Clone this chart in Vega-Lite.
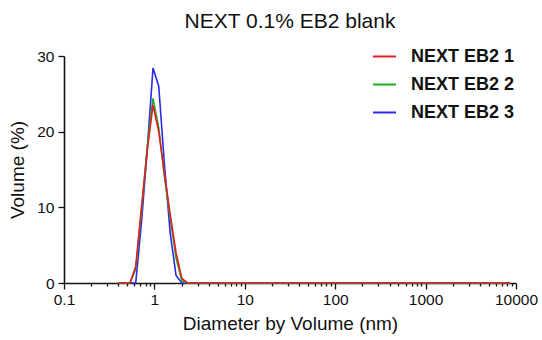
{
  "$schema": "https://vega.github.io/schema/vega-lite/v6.json",
  "autosize": "none",
  "width": 452,
  "height": 227,
  "padding": {"left": 64, "top": 56, "right": 26, "bottom": 57},
  "background": "white",
  "title": {"text": "NEXT 0.1% EB2 blank", "font": "Liberation Sans", "fontSize": 21, "fontWeight": "normal", "color": "#111", "anchor": "middle", "offset": 12},
  "config": {"view": {"stroke": null}, "font": "Liberation Sans"},
  "data": {"values": [
    {"s":"NEXT EB2 3","d":0.4,"v":0},{"s":"NEXT EB2 3","d":0.4632,"v":0},{"s":"NEXT EB2 3","d":0.5365,"v":0},{"s":"NEXT EB2 3","d":0.6213,"v":0},{"s":"NEXT EB2 3","d":0.7195,"v":8.0},{"s":"NEXT EB2 3","d":0.8332,"v":17.6},{"s":"NEXT EB2 3","d":0.9649,"v":28.4},{"s":"NEXT EB2 3","d":1.117,"v":26.0},{"s":"NEXT EB2 3","d":1.294,"v":15.5},{"s":"NEXT EB2 3","d":1.499,"v":6.5},{"s":"NEXT EB2 3","d":1.736,"v":1.0},{"s":"NEXT EB2 3","d":2.01,"v":0},{"s":"NEXT EB2 3","d":2.328,"v":0},{"s":"NEXT EB2 3","d":2.696,"v":0},{"s":"NEXT EB2 3","d":3.122,"v":0},{"s":"NEXT EB2 3","d":3.615,"v":0},{"s":"NEXT EB2 3","d":4.187,"v":0},{"s":"NEXT EB2 3","d":4.849,"v":0},{"s":"NEXT EB2 3","d":5.615,"v":0},{"s":"NEXT EB2 3","d":6.503,"v":0},{"s":"NEXT EB2 3","d":7.531,"v":0},{"s":"NEXT EB2 3","d":8.721,"v":0},{"s":"NEXT EB2 3","d":10.1,"v":0},{"s":"NEXT EB2 3","d":11.7,"v":0},{"s":"NEXT EB2 3","d":13.54,"v":0},{"s":"NEXT EB2 3","d":15.69,"v":0},{"s":"NEXT EB2 3","d":18.17,"v":0},{"s":"NEXT EB2 3","d":21.04,"v":0},{"s":"NEXT EB2 3","d":24.36,"v":0},{"s":"NEXT EB2 3","d":28.21,"v":0},{"s":"NEXT EB2 3","d":32.67,"v":0},{"s":"NEXT EB2 3","d":37.84,"v":0},{"s":"NEXT EB2 3","d":43.82,"v":0},{"s":"NEXT EB2 3","d":50.75,"v":0},{"s":"NEXT EB2 3","d":58.77,"v":0},{"s":"NEXT EB2 3","d":68.06,"v":0},{"s":"NEXT EB2 3","d":78.82,"v":0},{"s":"NEXT EB2 3","d":91.28,"v":0},{"s":"NEXT EB2 3","d":105.7,"v":0},{"s":"NEXT EB2 3","d":122.4,"v":0},{"s":"NEXT EB2 3","d":141.8,"v":0},{"s":"NEXT EB2 3","d":164.2,"v":0},{"s":"NEXT EB2 3","d":190.1,"v":0},{"s":"NEXT EB2 3","d":220.2,"v":0},{"s":"NEXT EB2 3","d":255,"v":0},{"s":"NEXT EB2 3","d":295.3,"v":0},{"s":"NEXT EB2 3","d":342,"v":0},{"s":"NEXT EB2 3","d":396.1,"v":0},{"s":"NEXT EB2 3","d":458.7,"v":0},{"s":"NEXT EB2 3","d":531.2,"v":0},{"s":"NEXT EB2 3","d":615.1,"v":0},{"s":"NEXT EB2 3","d":712.4,"v":0},{"s":"NEXT EB2 3","d":825,"v":0},{"s":"NEXT EB2 3","d":955.4,"v":0},{"s":"NEXT EB2 3","d":1106,"v":0},{"s":"NEXT EB2 3","d":1281,"v":0},{"s":"NEXT EB2 3","d":1484,"v":0},{"s":"NEXT EB2 3","d":1718,"v":0},{"s":"NEXT EB2 3","d":1990,"v":0},{"s":"NEXT EB2 3","d":2305,"v":0},{"s":"NEXT EB2 3","d":2669,"v":0},{"s":"NEXT EB2 3","d":3091,"v":0},{"s":"NEXT EB2 3","d":3580,"v":0},{"s":"NEXT EB2 3","d":4145,"v":0},{"s":"NEXT EB2 3","d":4801,"v":0},{"s":"NEXT EB2 3","d":5560,"v":0},{"s":"NEXT EB2 3","d":6439,"v":0},{"s":"NEXT EB2 3","d":7456,"v":0},{"s":"NEXT EB2 3","d":8635,"v":0},
    {"s":"NEXT EB2 2","d":0.4,"v":0},{"s":"NEXT EB2 2","d":0.4632,"v":0},{"s":"NEXT EB2 2","d":0.5365,"v":0},{"s":"NEXT EB2 2","d":0.6213,"v":1.8},{"s":"NEXT EB2 2","d":0.7195,"v":9.5},{"s":"NEXT EB2 2","d":0.8332,"v":18.0},{"s":"NEXT EB2 2","d":0.9649,"v":24.4},{"s":"NEXT EB2 2","d":1.117,"v":20.5},{"s":"NEXT EB2 2","d":1.294,"v":14.0},{"s":"NEXT EB2 2","d":1.499,"v":8.5},{"s":"NEXT EB2 2","d":1.736,"v":3.3},{"s":"NEXT EB2 2","d":2.01,"v":0.3},{"s":"NEXT EB2 2","d":2.328,"v":0},{"s":"NEXT EB2 2","d":2.696,"v":0},{"s":"NEXT EB2 2","d":3.122,"v":0},{"s":"NEXT EB2 2","d":3.615,"v":0},{"s":"NEXT EB2 2","d":4.187,"v":0},{"s":"NEXT EB2 2","d":4.849,"v":0},{"s":"NEXT EB2 2","d":5.615,"v":0},{"s":"NEXT EB2 2","d":6.503,"v":0},{"s":"NEXT EB2 2","d":7.531,"v":0},{"s":"NEXT EB2 2","d":8.721,"v":0},{"s":"NEXT EB2 2","d":10.1,"v":0},{"s":"NEXT EB2 2","d":11.7,"v":0},{"s":"NEXT EB2 2","d":13.54,"v":0},{"s":"NEXT EB2 2","d":15.69,"v":0},{"s":"NEXT EB2 2","d":18.17,"v":0},{"s":"NEXT EB2 2","d":21.04,"v":0},{"s":"NEXT EB2 2","d":24.36,"v":0},{"s":"NEXT EB2 2","d":28.21,"v":0},{"s":"NEXT EB2 2","d":32.67,"v":0},{"s":"NEXT EB2 2","d":37.84,"v":0},{"s":"NEXT EB2 2","d":43.82,"v":0},{"s":"NEXT EB2 2","d":50.75,"v":0},{"s":"NEXT EB2 2","d":58.77,"v":0},{"s":"NEXT EB2 2","d":68.06,"v":0},{"s":"NEXT EB2 2","d":78.82,"v":0},{"s":"NEXT EB2 2","d":91.28,"v":0},{"s":"NEXT EB2 2","d":105.7,"v":0},{"s":"NEXT EB2 2","d":122.4,"v":0},{"s":"NEXT EB2 2","d":141.8,"v":0},{"s":"NEXT EB2 2","d":164.2,"v":0},{"s":"NEXT EB2 2","d":190.1,"v":0},{"s":"NEXT EB2 2","d":220.2,"v":0},{"s":"NEXT EB2 2","d":255,"v":0},{"s":"NEXT EB2 2","d":295.3,"v":0},{"s":"NEXT EB2 2","d":342,"v":0},{"s":"NEXT EB2 2","d":396.1,"v":0},{"s":"NEXT EB2 2","d":458.7,"v":0},{"s":"NEXT EB2 2","d":531.2,"v":0},{"s":"NEXT EB2 2","d":615.1,"v":0},{"s":"NEXT EB2 2","d":712.4,"v":0},{"s":"NEXT EB2 2","d":825,"v":0},{"s":"NEXT EB2 2","d":955.4,"v":0},{"s":"NEXT EB2 2","d":1106,"v":0},{"s":"NEXT EB2 2","d":1281,"v":0},{"s":"NEXT EB2 2","d":1484,"v":0},{"s":"NEXT EB2 2","d":1718,"v":0},{"s":"NEXT EB2 2","d":1990,"v":0},{"s":"NEXT EB2 2","d":2305,"v":0},{"s":"NEXT EB2 2","d":2669,"v":0},{"s":"NEXT EB2 2","d":3091,"v":0},{"s":"NEXT EB2 2","d":3580,"v":0},{"s":"NEXT EB2 2","d":4145,"v":0},{"s":"NEXT EB2 2","d":4801,"v":0},{"s":"NEXT EB2 2","d":5560,"v":0},{"s":"NEXT EB2 2","d":6439,"v":0},{"s":"NEXT EB2 2","d":7456,"v":0},{"s":"NEXT EB2 2","d":8635,"v":0},
    {"s":"NEXT EB2 1","d":0.4,"v":0},{"s":"NEXT EB2 1","d":0.4632,"v":0},{"s":"NEXT EB2 1","d":0.5365,"v":0},{"s":"NEXT EB2 1","d":0.6213,"v":2.2},{"s":"NEXT EB2 1","d":0.7195,"v":10.0},{"s":"NEXT EB2 1","d":0.8332,"v":17.5},{"s":"NEXT EB2 1","d":0.9649,"v":23.5},{"s":"NEXT EB2 1","d":1.117,"v":20.0},{"s":"NEXT EB2 1","d":1.294,"v":14.4},{"s":"NEXT EB2 1","d":1.499,"v":9.0},{"s":"NEXT EB2 1","d":1.736,"v":4.0},{"s":"NEXT EB2 1","d":2.01,"v":0.6},{"s":"NEXT EB2 1","d":2.328,"v":0},{"s":"NEXT EB2 1","d":2.696,"v":0},{"s":"NEXT EB2 1","d":3.122,"v":0},{"s":"NEXT EB2 1","d":3.615,"v":0},{"s":"NEXT EB2 1","d":4.187,"v":0},{"s":"NEXT EB2 1","d":4.849,"v":0},{"s":"NEXT EB2 1","d":5.615,"v":0},{"s":"NEXT EB2 1","d":6.503,"v":0},{"s":"NEXT EB2 1","d":7.531,"v":0},{"s":"NEXT EB2 1","d":8.721,"v":0},{"s":"NEXT EB2 1","d":10.1,"v":0},{"s":"NEXT EB2 1","d":11.7,"v":0},{"s":"NEXT EB2 1","d":13.54,"v":0},{"s":"NEXT EB2 1","d":15.69,"v":0},{"s":"NEXT EB2 1","d":18.17,"v":0},{"s":"NEXT EB2 1","d":21.04,"v":0},{"s":"NEXT EB2 1","d":24.36,"v":0},{"s":"NEXT EB2 1","d":28.21,"v":0},{"s":"NEXT EB2 1","d":32.67,"v":0},{"s":"NEXT EB2 1","d":37.84,"v":0},{"s":"NEXT EB2 1","d":43.82,"v":0},{"s":"NEXT EB2 1","d":50.75,"v":0},{"s":"NEXT EB2 1","d":58.77,"v":0},{"s":"NEXT EB2 1","d":68.06,"v":0},{"s":"NEXT EB2 1","d":78.82,"v":0},{"s":"NEXT EB2 1","d":91.28,"v":0},{"s":"NEXT EB2 1","d":105.7,"v":0},{"s":"NEXT EB2 1","d":122.4,"v":0},{"s":"NEXT EB2 1","d":141.8,"v":0},{"s":"NEXT EB2 1","d":164.2,"v":0},{"s":"NEXT EB2 1","d":190.1,"v":0},{"s":"NEXT EB2 1","d":220.2,"v":0},{"s":"NEXT EB2 1","d":255,"v":0},{"s":"NEXT EB2 1","d":295.3,"v":0},{"s":"NEXT EB2 1","d":342,"v":0},{"s":"NEXT EB2 1","d":396.1,"v":0},{"s":"NEXT EB2 1","d":458.7,"v":0},{"s":"NEXT EB2 1","d":531.2,"v":0},{"s":"NEXT EB2 1","d":615.1,"v":0},{"s":"NEXT EB2 1","d":712.4,"v":0},{"s":"NEXT EB2 1","d":825,"v":0},{"s":"NEXT EB2 1","d":955.4,"v":0},{"s":"NEXT EB2 1","d":1106,"v":0},{"s":"NEXT EB2 1","d":1281,"v":0},{"s":"NEXT EB2 1","d":1484,"v":0},{"s":"NEXT EB2 1","d":1718,"v":0},{"s":"NEXT EB2 1","d":1990,"v":0},{"s":"NEXT EB2 1","d":2305,"v":0},{"s":"NEXT EB2 1","d":2669,"v":0},{"s":"NEXT EB2 1","d":3091,"v":0},{"s":"NEXT EB2 1","d":3580,"v":0},{"s":"NEXT EB2 1","d":4145,"v":0},{"s":"NEXT EB2 1","d":4801,"v":0},{"s":"NEXT EB2 1","d":5560,"v":0},{"s":"NEXT EB2 1","d":6439,"v":0},{"s":"NEXT EB2 1","d":7456,"v":0},{"s":"NEXT EB2 1","d":8635,"v":0}
  ]},
  "mark": {"type": "line", "strokeWidth": 1.6, "interpolate": "linear"},
  "encoding": {
    "x": {
      "field": "d", "type": "quantitative",
      "scale": {"type": "log", "domain": [0.1, 10000], "nice": false},
      "axis": {
        "title": "Diameter by Volume (nm)",
        "values": [0.1,0.2,0.3,0.4,0.5,0.6,0.7,0.8,0.9,1,2,3,4,5,6,7,8,9,10,20,30,40,50,60,70,80,90,100,200,300,400,500,600,700,800,900,1000,2000,3000,4000,5000,6000,7000,8000,9000,10000],
        "labelExpr": "abs(log(datum.value)/LN10 - round(log(datum.value)/LN10)) < 0.001 ? format(datum.value, '~g') : ''",
        "labelOverlap": false, "labelBound": false, "labelFlush": false,
        "grid": false,
        "tickSize": {"condition": {"test": "abs(log(datum.value)/LN10 - round(log(datum.value)/LN10)) < 0.001", "value": 6}, "value": 3},
        "tickColor": "#111", "tickWidth": 1.3,
        "domainColor": "#111", "domainWidth": 1.6,
        "labelFont": "Liberation Sans", "labelFontSize": 15.5, "labelColor": "#111", "labelPadding": 3,
        "titleFont": "Liberation Sans", "titleFontSize": 19, "titleFontWeight": "normal", "titleColor": "#111", "titlePadding": 7
      }
    },
    "y": {
      "field": "v", "type": "quantitative",
      "scale": {"domain": [0, 30], "nice": false},
      "axis": {
        "title": "Volume (%)", "values": [0, 10, 20, 30], "grid": false,
        "tickSize": 6, "tickColor": "#111", "tickWidth": 1.3,
        "domainColor": "#111", "domainWidth": 1.6,
        "labelFont": "Liberation Sans", "labelFontSize": 15.5, "labelColor": "#111", "labelPadding": 4,
        "titleFont": "Liberation Sans", "titleFontSize": 19, "titleFontWeight": "normal", "titleColor": "#111", "titlePadding": 9
      }
    },
    "color": {
      "field": "s", "type": "nominal", "title": null,
      "scale": {"domain": ["NEXT EB2 1", "NEXT EB2 2", "NEXT EB2 3"], "range": ["#e02020", "#22aa22", "#2a2aee"]},
      "legend": {
        "orient": "none", "legendX": 308, "legendY": -12,
        "symbolType": "stroke", "symbolSize": 529, "symbolStrokeWidth": 2,
        "labelFont": "Liberation Sans", "labelFontSize": 18, "labelFontWeight": "bold", "labelColor": "#111",
        "labelOffset": 14, "rowPadding": 6, "padding": 0
      }
    }
  }
}
